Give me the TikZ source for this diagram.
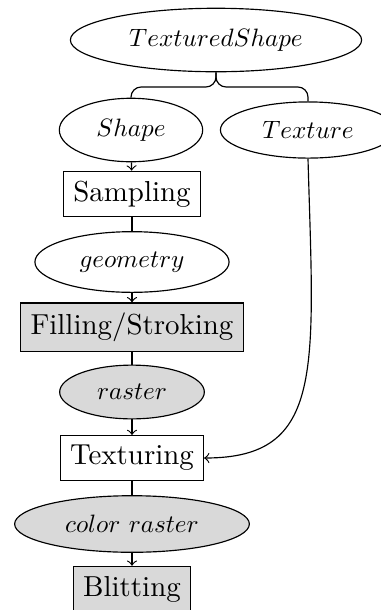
\documentclass[tikz,border=0pt]{standalone}
\usepackage{graphicx}
\usetikzlibrary{shapes.geometric}
\newcommand{\dlabel}[1]{\scalebox{0.87}{$#1$}}
\tikzset{
  data/.style={ellipse, draw, inner xsep=5.6pt, inner ysep=3.9pt},
  proc/.style={rectangle, draw},
  shaded/.style={fill=gray!30},
  flow/.style={->},
}
\begin{document}
\begin{tikzpicture}[x=0.346pt, y=-0.346pt]
  \useasboundingbox (0,0) rectangle (380,610);
  % nodes, placed in pixel units from the top left corner
  \node[data] (ts) at (216,40) {\dlabel{TexturedShape}};
  \node[data] (shape) at (131,130) {\dlabel{Shape}};
  \node[data] (texture) at (308,130) {\dlabel{Texture}};
  \node[proc] (sampling) at (132,194) {Sampling};
  \node[data] (geometry) at (132,262) {\dlabel{geometry}};
  \node[proc, shaded] (filling) at (132,327) {Filling/Stroking};
  \node[data, shaded] (raster) at (132,392) {\dlabel{raster}};
  \node[proc] (texturing) at (132,458) {Texturing};
  \node[data, shaded] (craster) at (132,524) {\dlabel{color\ raster}};
  \node[proc, shaded] (blitting) at (132,589) {Blitting};
  % brace splitting the textured shape into shape and texture
  \coordinate (bj) at (216,87);
  \draw[rounded corners=3.5pt] (ts.south) -- (ts.south |- bj) -- (shape.north |- bj) -- (shape.north);
  \draw[rounded corners=3.5pt] (ts.south) -- (ts.south |- bj) -- (texture.north |- bj) -- (texture.north);
  % pipeline
  \draw[flow] (shape) -- (sampling);
  \draw (sampling) -- (geometry);
  \draw[flow] (geometry) -- (filling);
  \draw (filling) -- (raster);
  \draw[flow] (raster) -- (texturing);
  \draw (texturing) -- (craster);
  \draw[flow] (craster) -- (blitting);
  \draw[flow] (texture.south) .. controls (314,370) and (325,458) .. (texturing.east);
\end{tikzpicture}
\end{document}
